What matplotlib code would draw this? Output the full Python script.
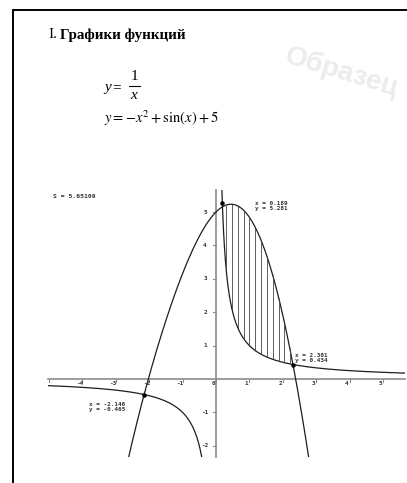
import numpy as np
import matplotlib.pyplot as plt
from matplotlib.patches import Rectangle

# функции
def f_hyp(x):
    return 1 / x

def f_par(x):
    return -x**2 + np.sin(x) + 5

# точки пересечения и площадь
cross_x = [-2.146, 0.189, 2.301]
cross_y = [-0.465, 5.281, 0.434]
area_s = 5.65109

# штриховка между кривыми
hatch_x = [0.30, 0.48, 0.65, 0.83, 1.00, 1.18, 1.35, 1.53, 1.70, 1.88, 2.05, 2.21]

x_ticks = [-4, -3, -2, -1, 0, 1, 2, 3, 4, 5]
y_ticks = [-2, -1, 1, 2, 3, 4, 5]

# границы области графика
X_MIN, X_MAX = -5.03, 5.66
Y_MIN, Y_MAX = -2.35, 5.66

W, H = 407, 483
UNIT = 33.4          # пикселей на единицу
OX, OY = 216, 379    # начало координат в пикселях

fig = plt.figure(figsize=(W / 100, H / 100), dpi=100)
fig.patch.set_facecolor('white')
ax = fig.add_axes([0, 0, 1, 1])
ax.set_xlim(-OX / UNIT, (W - OX) / UNIT)
ax.set_ylim(-(H - OY) / UNIT, OY / UNIT)
ax.axis('off')

def px(x, y):
    return x / W, 1 - y / H

# рамка страницы
fig.add_artist(plt.Line2D([13 / W, 1], [1 - 10 / H, 1 - 10 / H], color='black', lw=1.4))
fig.add_artist(plt.Line2D([13 / W, 13 / W], [0, 1 - 10 / H], color='black', lw=1.4))

# водяной знак
fig.text(*px(342, 72), 'Образец', rotation=-17, ha='center', va='center',
         fontsize=20, fontweight='bold', family='Liberation Sans', color='#ececec')

# заголовок
fig.text(*px(48, 35), 'I.', fontsize=11, family='Liberation Serif', va='center')
fig.text(*px(60, 35), 'Графики функций', fontsize=10.8, fontweight='bold',
         family='Liberation Serif', va='center')

# формулы
serif = dict(family='Liberation Serif', fontsize=11, va='center')
fig.text(*px(104, 88), 'y', style='italic', **serif)
fig.text(*px(112, 88), '=', **serif)
fig.text(*px(134, 77), '1', ha='center', **serif)
fig.text(*px(134, 96), 'x', ha='center', style='italic', **serif)
fig.add_artist(plt.Line2D([129 / W, 140 / W], [1 - 86 / H, 1 - 86 / H], color='black', lw=0.8))
plt.rcParams['mathtext.fontset'] = 'stix'
fig.text(*px(104, 118), r'$y=-x^{2}+\sin(x)+5$', fontsize=10.5, va='center')

# оси
ax.plot([X_MIN, X_MAX], [0, 0], color='#8c8c8c', lw=1.2)
ax.plot([0, 0], [Y_MIN, Y_MAX], color='#8c8c8c', lw=1.2)
lbl = dict(fontsize=4.3, fontweight='bold', family='DejaVu Sans Mono', color='#333333')
for t in range(-5, 6):
    ax.plot([t, t], [0, -0.09], color='#8c8c8c', lw=0.8)
for t in x_ticks:
    ax.text(t - 0.08, -0.14, str(t), ha='center', va='center', **lbl)
for t in y_ticks:
    ax.plot([-0.09, 0], [t, t], color='#8c8c8c', lw=0.8)
    ax.text(-0.33, t, str(t), ha='center', va='center', **lbl)

clip = Rectangle((X_MIN, Y_MIN), X_MAX - X_MIN, Y_MAX - Y_MIN, transform=ax.transData)

# графики
xp = np.linspace(-3.2, 3.2, 600)
ln, = ax.plot(xp, f_par(xp), color='#1e1e1e', lw=0.9)
ln.set_clip_path(clip)
xl = np.linspace(X_MIN, -0.05, 600)
ln, = ax.plot(xl, f_hyp(xl), color='#1e1e1e', lw=0.9)
ln.set_clip_path(clip)
xr = np.linspace(0.05, X_MAX, 800)
ln, = ax.plot(xr, f_hyp(xr), color='#1e1e1e', lw=0.9)
ln.set_clip_path(clip)

hx = np.array(hatch_x)
ax.vlines(hx, f_hyp(hx), f_par(hx), color='#444444', lw=0.6)

ax.scatter(cross_x, cross_y, s=5, color='black', zorder=5)

note = dict(fontsize=4.3, fontweight='bold', family='DejaVu Sans Mono', color='#333333',
            va='center', linespacing=0.95)
ax.text(1.17, 5.18, f'x = {cross_x[1]}\ny = {cross_y[1]}', **note)
ax.text(2.37, 0.62, f'x = {cross_x[2]}\ny = {cross_y[2]}', **note)
ax.text(-3.8, -0.84, f'x = {cross_x[0]}\ny = {cross_y[0]}', **note)
ax.text(-4.88, 5.45, f'S = {area_s}', fontsize=4.6, fontweight='bold',
        family='DejaVu Sans Mono', color='#333333', va='center')

fig.savefig('out.png', dpi=100)
